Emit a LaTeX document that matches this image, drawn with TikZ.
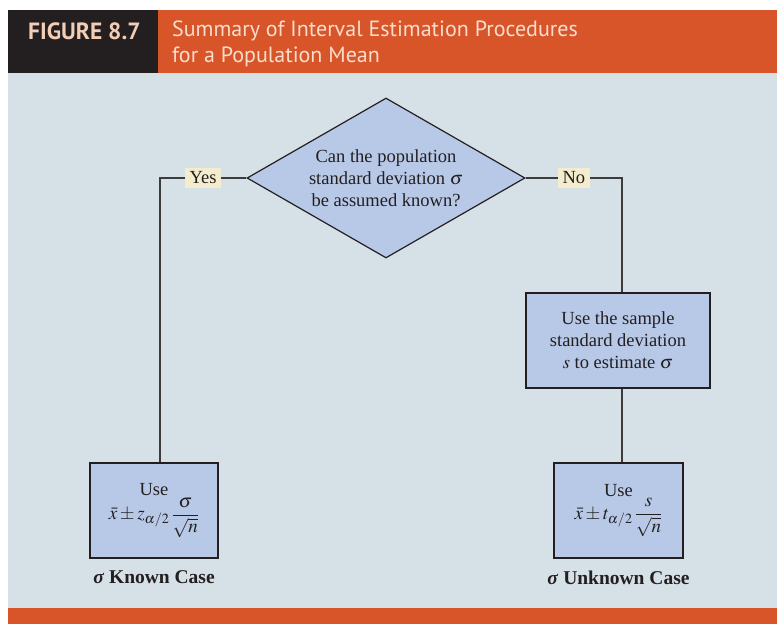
\documentclass[tikz,border=0pt]{standalone}
\usepackage{amsmath}
\usepackage{mathptmx}
\usepackage[no-math]{fontspec}
\setmainfont{Liberation Serif}
\newfontfamily\headfont{PT Sans}
\usetikzlibrary{positioning,shapes.geometric,calc}
\definecolor{headorange}{HTML}{D8552A}
\definecolor{headblack}{HTML}{231F20}
\definecolor{panelbg}{HTML}{D6E0E7}
\definecolor{boxfill}{HTML}{B8C9E8}
\definecolor{tagfill}{HTML}{F3EDCD}
\definecolor{inkgray}{HTML}{3C3C3C}
\definecolor{headtext}{HTML}{F9DDCC}
\definecolor{figtext}{HTML}{F3CDB6}

\begin{document}
\begin{tikzpicture}[x=1pt, y=-1pt,
  font=\fontsize{18.5}{22}\selectfont, text=headblack,
  decision/.style={diamond, aspect=1.74, draw=headblack, fill=boxfill, line width=1.2pt, inner sep=0pt,
    minimum width=278pt, minimum height=160pt, align=center},
  box/.style={draw=headblack, fill=boxfill, line width=1.2pt, align=center, inner sep=0pt},
  tag/.style={fill=tagfill, inner xsep=4.5pt, inner ysep=3.5pt},
  link/.style={draw=inkgray, line width=1.2pt},
  casename/.style={font=\fontsize{19.5}{22}\selectfont\bfseries, inner sep=0pt}
]
\useasboundingbox (0,0) rectangle (777,624);
% frame and header
\fill[panelbg] (8,73) rectangle (777,608);
\fill[headorange] (8,608) rectangle (777,624);
\fill[headblack] (8,10) rectangle (158,73);
\fill[headorange] (158,10) rectangle (777,73);
\node[anchor=west, inner sep=0pt, text=figtext, font=\headfont\bfseries\fontsize{23.5}{26}\selectfont] (fignum) at (28,31) {FIGURE 8.7};
\node[anchor=west, inner sep=0pt, text=headtext, align=left, font=\headfont\fontsize{22}{25.5}\selectfont] (figtitle) at (172,44)
  {Summary of Interval Estimation Procedures\\for a Population Mean};

\node[decision] (question) at (386,178) {Can the population\\standard deviation $\sigma$\\be assumed known?};
\node[box, minimum width=184pt, minimum height=95pt] (samplebox) at (618,340.5)
  {Use the sample\\standard deviation\\$s$ to estimate $\sigma$};
\node[box, minimum width=128pt, minimum height=95pt] (knownbox) at (154,510.5)
  {Use\\[1pt]{\fontsize{19}{22}\selectfont$\bar{x}\pm z_{\alpha/2}\,\dfrac{\sigma}{\sqrt{n}}$}};
\node[box, minimum width=129pt, minimum height=95pt] (unknownbox) at (618.5,510.5)
  {Use\\[1pt]{\fontsize{19}{22}\selectfont$\bar{x}\pm t_{\alpha/2}\,\dfrac{s}{\sqrt{n}}$}};
\node[casename, below=12pt of knownbox] (knowncase) {\textit{σ} Known Case};
\node[casename, below=12pt of unknownbox] (unknowncase) {\textit{σ} Unknown Case};

\coordinate (yescorner) at (160,178);
\coordinate (nocorner) at (622,178);
\draw[link] (question.west) -- node[tag] {Yes} (yescorner) -- (knownbox.north -| yescorner);
\draw[link] (question.east) -- node[tag] {No} (nocorner) -- (samplebox.north -| nocorner);
\draw[link] (samplebox.south -| nocorner) -- (unknownbox.north -| nocorner);
\end{tikzpicture}
\end{document}
